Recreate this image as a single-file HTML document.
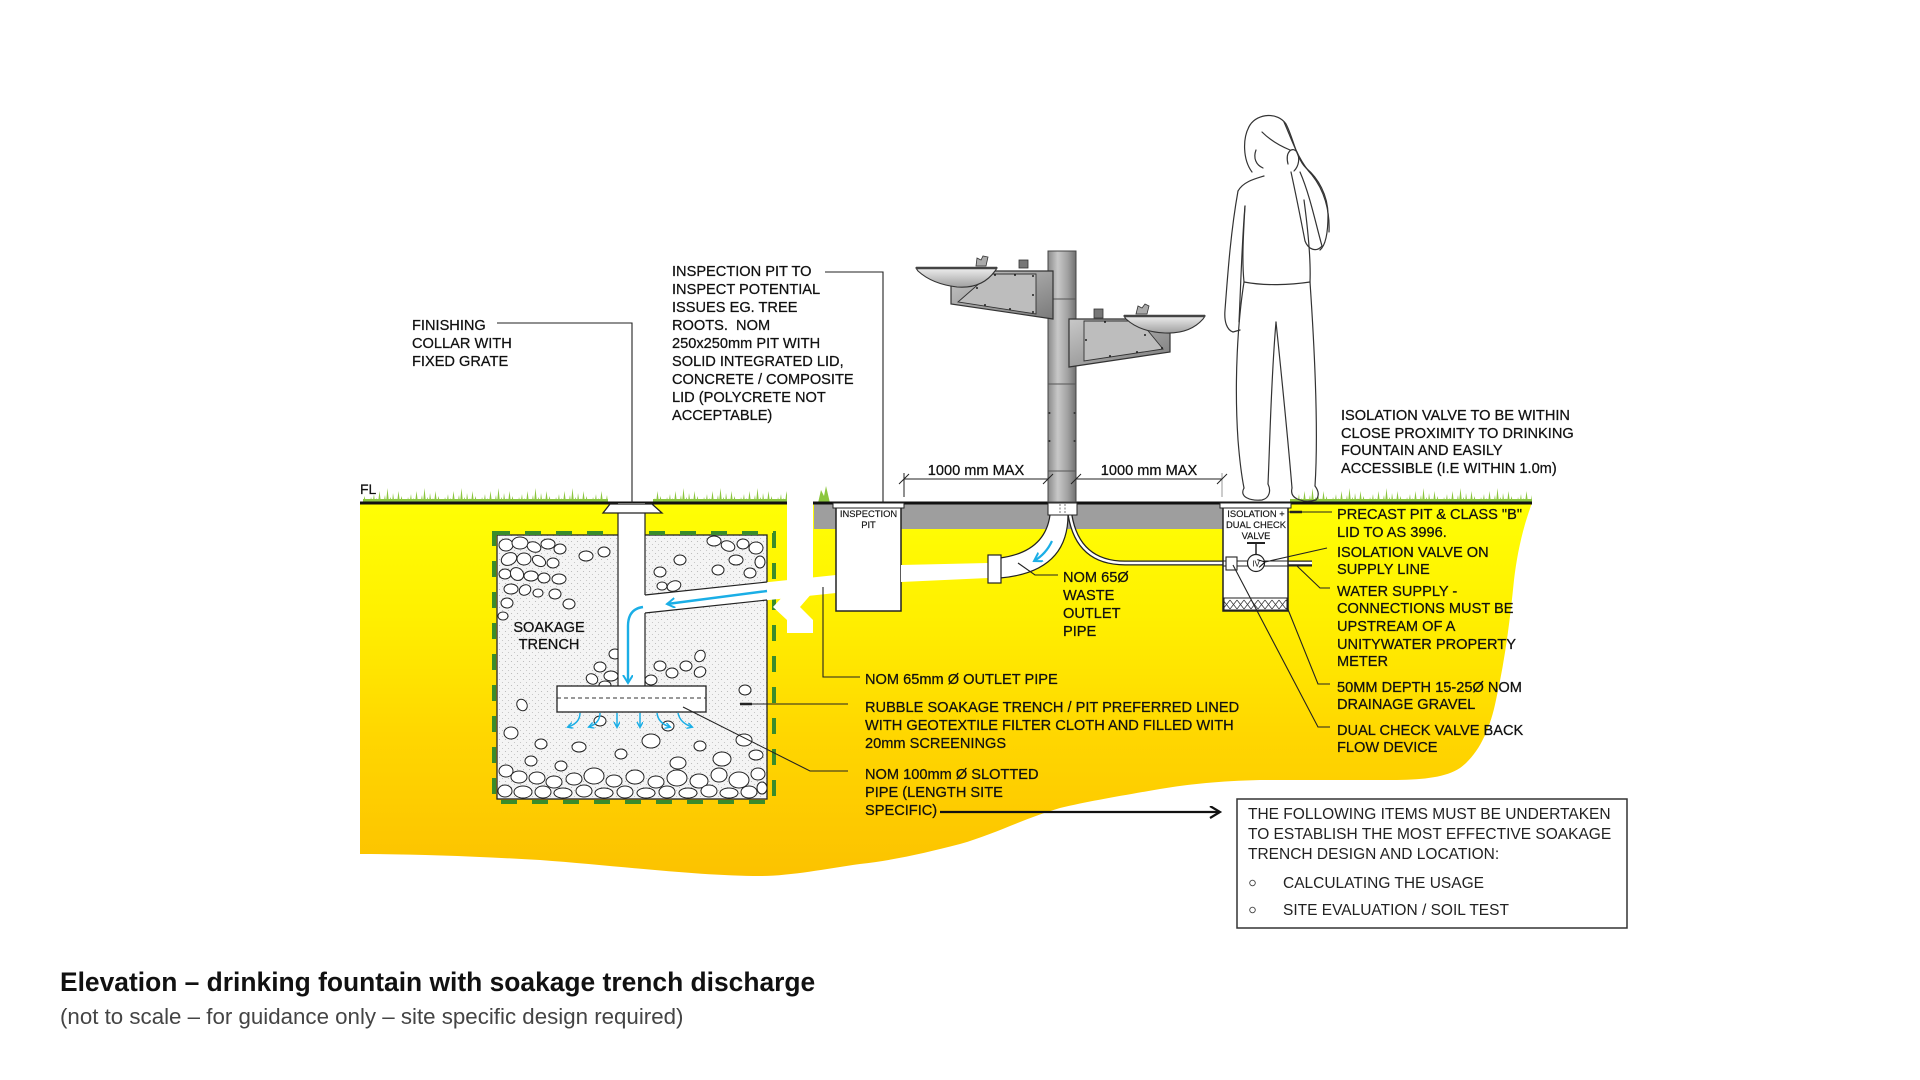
<!DOCTYPE html>
<html>
<head>
<meta charset="utf-8">
<style>
  html,body{margin:0;padding:0;background:#ffffff;}
  svg{display:block;}
  .t{font-family:"Liberation Sans",Arial,sans-serif;font-size:14.6px;fill:#111;stroke:#111;stroke-width:0.25px;}
  .s{font-family:"Liberation Sans",Arial,sans-serif;font-size:9.4px;fill:#111;stroke:#111;stroke-width:0.15px;}
  .b{font-family:"Liberation Sans",Arial,sans-serif;font-size:15.5px;fill:#222;}
</style>
</head>
<body>
<svg width="1920" height="1080" viewBox="0 0 1920 1080" xmlns="http://www.w3.org/2000/svg">
  <defs>
    <linearGradient id="yel" gradientUnits="userSpaceOnUse" x1="0" y1="503" x2="0" y2="876">
      <stop offset="0" stop-color="#ffff05"/>
      <stop offset="0.3" stop-color="#fff000"/>
      <stop offset="0.62" stop-color="#ffd700"/>
      <stop offset="1" stop-color="#fcc200"/>
    </linearGradient>
    <linearGradient id="pole" x1="0" y1="0" x2="1" y2="0">
      <stop offset="0" stop-color="#8a8a8a"/>
      <stop offset="0.35" stop-color="#c8c8c8"/>
      <stop offset="0.7" stop-color="#a2a2a2"/>
      <stop offset="1" stop-color="#707070"/>
    </linearGradient>
    <linearGradient id="hous" x1="0" y1="0" x2="1" y2="1">
      <stop offset="0" stop-color="#c8c8c8"/>
      <stop offset="1" stop-color="#7a7a7a"/>
    </linearGradient>
    <linearGradient id="bowl" x1="0" y1="0" x2="0" y2="1">
      <stop offset="0" stop-color="#eeeeee"/>
      <stop offset="1" stop-color="#a0a0a0"/>
    </linearGradient>
    <pattern id="dots" patternUnits="userSpaceOnUse" width="6" height="6">
      <rect width="6" height="6" fill="#f4f4f4"/>
      <circle cx="1.5" cy="1.5" r="0.55" fill="#b0b0b0"/>
      <circle cx="4.5" cy="4.5" r="0.55" fill="#bdbdbd"/>
    </pattern>
    <pattern id="grass" patternUnits="userSpaceOnUse" x="0" y="483" width="37" height="20">
      <path d="M0,20 L1,14 L2.5,20 L4,11 L5,20 L6.5,15 L8,20 L9.5,8 L11,20 L12,16 L13.5,20 L15,12 L16,20 L17.5,5 L19,20 L20.5,14 L22,20 L23,10 L24.5,20 L26,15 L27,20 L28.5,8 L30,20 L31.5,13 L33,20 L34.5,16 L36,20 Z" fill="#8cc63f"/>
      <rect x="0" y="16" width="37" height="4" fill="#8cc63f"/>
    </pattern>
    <pattern id="grav" patternUnits="userSpaceOnUse" width="14" height="13" x="1223" y="598">
      <rect width="14" height="13" fill="#ffffff"/>
      <path d="M0,2 L7,11 M7,2 L14,11 M7,2 L0,11 M14,2 L7,11" stroke="#333" stroke-width="0.7" fill="none"/>
    </pattern>
    <marker id="ba" markerWidth="8" markerHeight="8" refX="5" refY="3" orient="auto" markerUnits="userSpaceOnUse">
      <path d="M0,0 L5.5,3 L0,6" fill="none" stroke="#1aaee6" stroke-width="1.4"/>
    </marker>
    <marker id="bb" markerWidth="12" markerHeight="12" refX="8" refY="5" orient="auto" markerUnits="userSpaceOnUse">
      <path d="M0,0 L8,5 L0,10" fill="none" stroke="#1aaee6" stroke-width="2"/>
    </marker>
    <marker id="ka" markerWidth="14" markerHeight="14" refX="11" refY="6" orient="auto" markerUnits="userSpaceOnUse">
      <path d="M1,0 L11,6 L1,12" fill="none" stroke="#111" stroke-width="2.2"/>
    </marker>
    <marker id="kv" markerWidth="10" markerHeight="10" refX="1" refY="4" orient="auto" markerUnits="userSpaceOnUse">
      <path d="M8,0 L1,4 L8,8" fill="none" stroke="#111" stroke-width="1.1"/>
    </marker>
  </defs>

  <rect width="1920" height="1080" fill="#ffffff"/>

  <!-- yellow ground -->
  <path d="M360,503 L1532,503 C1522,530 1517,555 1514,580 C1510,620 1505,660 1496,700 C1490,730 1478,755 1460,768 C1445,778 1420,780 1390,780 L1260,780 C1220,781 1190,784 1160,789 C1120,796 1090,801 1060,808 C1025,818 995,834 960,844 C925,853 895,860 860,864 C825,869 790,876 760,876 C700,876 620,866 540,860 C470,856 410,854 360,854 Z" fill="url(#yel)"/>

  <!-- grass -->
  <rect x="363" y="483" width="245" height="20" fill="url(#grass)"/>
  <rect x="653" y="483" width="134" height="20" fill="url(#grass)"/>
  <path d="M818,503 L821,490 L824,496 L826,486 L830,503 Z" fill="#8cc63f"/>
  <rect x="1290" y="483" width="242" height="20" fill="url(#grass)"/>

  <!-- grey concrete band -->
  <rect x="814" y="503" width="409" height="26" fill="#9e9e9e"/>

  <!-- ground line -->
  <line x1="360" y1="503" x2="1532" y2="503" stroke="#111" stroke-width="3"/>

  <!-- trench -->
  <rect x="497" y="535" width="270" height="264" fill="url(#dots)" stroke="#222" stroke-width="1.3"/>
  <g fill="#fff" stroke="#222" stroke-width="1">
    <ellipse cx="506" cy="545" rx="7" ry="6"/><ellipse cx="520" cy="543" rx="8" ry="6"/><ellipse cx="534" cy="547" rx="7" ry="5" transform="rotate(20 534 547)"/>
    <ellipse cx="548" cy="544" rx="7" ry="5"/><ellipse cx="560" cy="549" rx="6" ry="5"/><ellipse cx="509" cy="559" rx="8" ry="6" transform="rotate(-25 509 559)"/>
    <ellipse cx="524" cy="559" rx="7" ry="6"/><ellipse cx="539" cy="561" rx="7" ry="5" transform="rotate(30 539 561)"/><ellipse cx="553" cy="563" rx="6" ry="5"/>
    <ellipse cx="505" cy="574" rx="6" ry="5"/><ellipse cx="517" cy="574" rx="7" ry="6" transform="rotate(40 517 574)"/><ellipse cx="531" cy="576" rx="7" ry="5"/>
    <ellipse cx="544" cy="578" rx="6" ry="5"/><ellipse cx="511" cy="589" rx="7" ry="5"/><ellipse cx="525" cy="590" rx="6" ry="5" transform="rotate(-30 525 590)"/>
    <ellipse cx="538" cy="593" rx="5" ry="4"/><ellipse cx="507" cy="603" rx="6" ry="5"/><ellipse cx="559" cy="579" rx="7" ry="5"/>
    <ellipse cx="555" cy="594" rx="6" ry="5"/><ellipse cx="586" cy="556" rx="7" ry="5"/><ellipse cx="569" cy="604" rx="6" ry="5"/>
    <ellipse cx="503" cy="616" rx="5" ry="4"/><ellipse cx="604" cy="552" rx="6" ry="5"/>
    <ellipse cx="714" cy="541" rx="7" ry="5"/><ellipse cx="728" cy="546" rx="7" ry="5" transform="rotate(20 728 546)"/><ellipse cx="743" cy="544" rx="6" ry="5"/>
    <ellipse cx="756" cy="548" rx="7" ry="6"/><ellipse cx="760" cy="562" rx="5" ry="6"/><ellipse cx="736" cy="560" rx="7" ry="5"/>
    <ellipse cx="750" cy="573" rx="6" ry="5"/><ellipse cx="718" cy="570" rx="6" ry="5"/><ellipse cx="660" cy="572" rx="6" ry="5"/>
    <ellipse cx="674" cy="586" rx="7" ry="5" transform="rotate(-20 674 586)"/><ellipse cx="662" cy="586" rx="5" ry="4"/><ellipse cx="680" cy="560" rx="6" ry="5"/>
    <ellipse cx="600" cy="667" rx="6" ry="5"/><ellipse cx="611" cy="676" rx="7" ry="5"/><ellipse cx="592" cy="679" rx="6" ry="5" transform="rotate(30 592 679)"/>
    <ellipse cx="605" cy="685" rx="6" ry="4"/><ellipse cx="660" cy="666" rx="6" ry="5"/><ellipse cx="672" cy="673" rx="6" ry="5"/>
    <ellipse cx="686" cy="666" rx="6" ry="5"/><ellipse cx="700" cy="672" rx="6" ry="5" transform="rotate(-30 700 672)"/><ellipse cx="651" cy="680" rx="6" ry="5"/>
    <ellipse cx="615" cy="654" rx="6" ry="5"/><ellipse cx="522" cy="705" rx="5" ry="6" transform="rotate(-30 522 705)"/><ellipse cx="745" cy="690" rx="6" ry="5"/>
    <ellipse cx="700" cy="656" rx="5" ry="6" transform="rotate(30 700 656)"/><ellipse cx="600" cy="721" rx="6" ry="5"/><ellipse cx="668" cy="726" rx="6" ry="5"/>
    <ellipse cx="511" cy="733" rx="7" ry="6"/><ellipse cx="651" cy="741" rx="9" ry="7"/><ellipse cx="541" cy="744" rx="6" ry="5"/>
    <ellipse cx="579" cy="747" rx="7" ry="5"/><ellipse cx="621" cy="754" rx="6" ry="5"/><ellipse cx="700" cy="746" rx="6" ry="5"/>
    <ellipse cx="744" cy="740" rx="8" ry="6"/><ellipse cx="756" cy="755" rx="7" ry="5"/><ellipse cx="531" cy="761" rx="6" ry="5"/>
    <ellipse cx="722" cy="759" rx="9" ry="7"/><ellipse cx="678" cy="763" rx="8" ry="6"/><ellipse cx="561" cy="766" rx="6" ry="5"/>
    <ellipse cx="506" cy="771" rx="7" ry="6"/><ellipse cx="519" cy="777" rx="8" ry="6"/><ellipse cx="537" cy="778" rx="8" ry="6"/>
    <ellipse cx="554" cy="782" rx="8" ry="6"/><ellipse cx="574" cy="779" rx="8" ry="6"/><ellipse cx="594" cy="776" rx="10" ry="8"/>
    <ellipse cx="614" cy="781" rx="8" ry="6"/><ellipse cx="635" cy="777" rx="9" ry="7"/><ellipse cx="656" cy="782" rx="8" ry="6"/>
    <ellipse cx="677" cy="778" rx="10" ry="8"/><ellipse cx="699" cy="781" rx="9" ry="7"/><ellipse cx="719" cy="775" rx="8" ry="7"/>
    <ellipse cx="739" cy="780" rx="10" ry="8"/><ellipse cx="758" cy="774" rx="7" ry="6"/>
    <ellipse cx="505" cy="791" rx="7" ry="6"/><ellipse cx="523" cy="792" rx="9" ry="6"/><ellipse cx="543" cy="792" rx="8" ry="6"/>
    <ellipse cx="563" cy="793" rx="9" ry="5"/><ellipse cx="584" cy="791" rx="8" ry="6"/><ellipse cx="604" cy="793" rx="9" ry="5"/>
    <ellipse cx="625" cy="792" rx="8" ry="6"/><ellipse cx="646" cy="793" rx="9" ry="5"/><ellipse cx="667" cy="792" rx="8" ry="6"/>
    <ellipse cx="688" cy="793" rx="9" ry="5"/><ellipse cx="709" cy="791" rx="8" ry="6"/><ellipse cx="729" cy="793" rx="9" ry="5"/>
    <ellipse cx="749" cy="792" rx="8" ry="6"/><ellipse cx="762" cy="788" rx="5" ry="6"/>
  </g>
  <!-- green dashed liner -->
  <rect x="494" y="533" width="280" height="269" fill="none" stroke="#3a8c2a" stroke-width="4" stroke-dasharray="16 15"/>

  <!-- riser pipe from collar -->
  <rect x="618" y="503" width="27" height="183" fill="#fff"/>
  <line x1="618" y1="513" x2="618" y2="686" stroke="#222" stroke-width="1.2"/>
  <line x1="645" y1="513" x2="645" y2="595" stroke="#222" stroke-width="1.2"/>
  <line x1="645" y1="613" x2="645" y2="686" stroke="#222" stroke-width="1.2"/>
  <!-- collar -->
  <polygon points="610,504 652,504 662,513 603,513" fill="#fff" stroke="#222" stroke-width="1.3"/>

  <!-- branch pipe to inspection pit -->
  <polygon points="645,595 836,575 836,593 645,613" fill="#fff"/>
  <line x1="645" y1="595" x2="767" y2="582" stroke="#222" stroke-width="1.2"/>
  <line x1="645" y1="613" x2="767" y2="600" stroke="#222" stroke-width="1.2"/>

  <!-- slotted pipe -->
  <rect x="557" y="686" width="149" height="26" fill="#fff" stroke="#222" stroke-width="1.3"/>
  <line x1="557" y1="698" x2="706" y2="698" stroke="#333" stroke-width="1" stroke-dasharray="4 3"/>

  <!-- blue flow arrows -->
  <path d="M643,607 Q628,609 628,626 L628,683" fill="none" stroke="#1aaee6" stroke-width="2.4" marker-end="url(#bb)"/>
  <path d="M767,591 L667,604" fill="none" stroke="#1aaee6" stroke-width="2.4" marker-end="url(#bb)"/>
  <g fill="none" stroke="#1aaee6" stroke-width="1.5">
    <path d="M580,713 Q580,723 568,727" marker-end="url(#ba)"/>
    <path d="M600,713 Q600,723 589,727" marker-end="url(#ba)"/>
    <path d="M617,713 L617,727" marker-end="url(#ba)"/>
    <path d="M640,713 L640,727" marker-end="url(#ba)"/>
    <path d="M657,713 Q658,723 670,727" marker-end="url(#ba)"/>
    <path d="M678,713 Q680,723 692,727" marker-end="url(#ba)"/>
  </g>

  <!-- vent riser with break symbol -->
  <polygon points="787,487 813,487 813,592 800,607 813,620 813,633 787,633 787,620 773,607 787,592" fill="#fff"/>

  <!-- inspection pit -->
  <rect x="836" y="505" width="65" height="106" fill="#fff" stroke="#222" stroke-width="1.5"/>
  <rect x="833" y="503" width="71" height="5" fill="#fff" stroke="#222" stroke-width="1"/>
  <text class="s" x="868.5" y="517" text-anchor="middle">INSPECTION</text>
  <text class="s" x="868.5" y="528" text-anchor="middle">PIT</text>

  <!-- pipe from pit to fountain -->
  <polygon points="901,565 988,563 988,578 901,582" fill="#fff"/>
  <path d="M1000,558 Q1045,552 1050,515 L1068,515 Q1068,572 1000,578 Z" fill="#fff"/>
  <path d="M1000,558 Q1045,552 1050,515" fill="none" stroke="#222" stroke-width="1.2"/>
  <path d="M1068,515 Q1068,572 1000,578" fill="none" stroke="#222" stroke-width="1.2"/>
  <rect x="988" y="555" width="13" height="28" fill="#fff" stroke="#222" stroke-width="1.2"/>
  <path d="M1052,541 Q1046,554 1034,561" fill="none" stroke="#1aaee6" stroke-width="2.2" marker-end="url(#bb)"/>

  <!-- water supply line -->
  <path d="M1070,515 Q1078,563 1125,563 L1312,563" fill="none" stroke="#222" stroke-width="5"/>
  <path d="M1070,515 Q1078,563 1125,563 L1312,563" fill="none" stroke="#fff" stroke-width="2.4"/>

  <!-- valve pit -->
  <rect x="1223" y="505" width="65" height="106" fill="#fff" stroke="#222" stroke-width="1.5"/>
  <line x1="1223" y1="561" x2="1312" y2="561" stroke="#222" stroke-width="1"/>
  <line x1="1223" y1="566" x2="1312" y2="566" stroke="#222" stroke-width="1"/>
  <rect x="1224" y="598" width="63" height="12" fill="url(#grav)" stroke="#222" stroke-width="1"/>
  <rect x="1220" y="503" width="71" height="5" fill="#fff" stroke="#222" stroke-width="1"/>
  <text class="s" x="1256" y="517" text-anchor="middle">ISOLATION  +</text>
  <text class="s" x="1256" y="528" text-anchor="middle">DUAL CHECK</text>
  <text class="s" x="1256" y="539" text-anchor="middle">VALVE</text>
  <line x1="1247" y1="543" x2="1265" y2="543" stroke="#222" stroke-width="2"/>
  <line x1="1256" y1="543" x2="1256" y2="555" stroke="#222" stroke-width="1.5"/>
  <circle cx="1256" cy="563" r="8.5" fill="#fff" stroke="#222" stroke-width="1.2"/>
  <text x="1256" y="566.5" text-anchor="middle" style="font-family:'Liberation Sans',Arial,sans-serif;font-size:8px;fill:#111">IV</text>
  <rect x="1226" y="557" width="11" height="13" fill="#fff" stroke="#222" stroke-width="1.1"/>

  <!-- fountain base -->
  <rect x="1048" y="503" width="29" height="12" fill="#fff" stroke="#222" stroke-width="1"/>
  <line x1="1060" y1="504" x2="1060" y2="514" stroke="#555" stroke-width="0.8" stroke-dasharray="2 1.5"/>
  <line x1="1065" y1="504" x2="1065" y2="514" stroke="#555" stroke-width="0.8" stroke-dasharray="2 1.5"/>

  <!-- fountain pole -->
  <rect x="1048" y="251" width="28" height="251" fill="url(#pole)" stroke="#444" stroke-width="1"/>
  <g stroke="#555" stroke-width="1">
    <line x1="1048" y1="299" x2="1076" y2="299"/>
    <line x1="1048" y1="384" x2="1076" y2="384"/>
    <line x1="1048" y1="471" x2="1076" y2="471"/>
  </g>
  <g fill="#333">
    <circle cx="1049.5" cy="413" r="1"/><circle cx="1074.5" cy="413" r="1"/>
    <circle cx="1049.5" cy="441" r="1"/><circle cx="1074.5" cy="441" r="1"/>
  </g>

  <!-- left bowl + housing -->
  <polygon points="951,271 1053,271 1053,319 951,304" fill="url(#hous)" stroke="#333" stroke-width="1.2"/>
  <polygon points="990,274 1036,274 1036,314 958,302" fill="#bdbdbd" stroke="#333" stroke-width="0.9"/>
  <path d="M916,268 L997,268 L995,271 Q982,289 957,287 Q932,284 918,271 Z" fill="url(#bowl)" stroke="#333" stroke-width="1.1"/>
  <line x1="916" y1="268" x2="997" y2="268" stroke="#444" stroke-width="2.5"/>
  <path d="M976,266 L977,258 L981,260 L983,256 L988,257 L986,266 Z" fill="#aaa" stroke="#333" stroke-width="0.8"/>
  <rect x="1019" y="260" width="9" height="8" fill="#777" stroke="#333" stroke-width="0.8"/>
  <g fill="#222"><circle cx="995" cy="275" r="1"/><circle cx="1015" cy="275" r="1"/><circle cx="1033" cy="276" r="1"/><circle cx="1033" cy="295" r="1"/><circle cx="1033" cy="312" r="1"/><circle cx="1010" cy="309" r="1"/><circle cx="985" cy="305" r="1"/><circle cx="977" cy="288" r="1"/></g>

  <!-- right bowl + housing -->
  <polygon points="1069,319 1170,319 1170,352 1069,367" fill="url(#hous)" stroke="#333" stroke-width="1.2"/>
  <polygon points="1084,321 1140,321 1163,349 1084,361" fill="#bdbdbd" stroke="#333" stroke-width="0.9"/>
  <path d="M1124,316 L1205,316 L1203,319 Q1190,334 1165,333 Q1140,332 1126,319 Z" fill="url(#bowl)" stroke="#333" stroke-width="1.1"/>
  <line x1="1124" y1="316" x2="1205" y2="316" stroke="#444" stroke-width="2.5"/>
  <path d="M1136,314 L1138,306 L1142,308 L1145,304 L1149,306 L1147,314 Z" fill="#aaa" stroke="#333" stroke-width="0.8"/>
  <rect x="1094" y="309" width="9" height="9" fill="#777" stroke="#333" stroke-width="0.8"/>
  <g fill="#222"><circle cx="1086" cy="340" r="1"/><circle cx="1105" cy="322" r="1"/><circle cx="1145" cy="335" r="1"/><circle cx="1110" cy="356" r="1"/><circle cx="1137" cy="352" r="1"/><circle cx="1162" cy="348" r="1"/></g>

  <!-- dimension lines -->
  <g stroke="#222" stroke-width="1">
    <line x1="904" y1="479" x2="1048" y2="479"/>
    <line x1="1076" y1="479" x2="1222" y2="479"/>
    <line x1="904" y1="473" x2="904" y2="497"/>
    <line x1="1222" y1="473" x2="1222" y2="497" stroke="#999"/>
    <line x1="899" y1="484" x2="909" y2="474"/>
    <line x1="1043" y1="484" x2="1053" y2="474"/>
    <line x1="1071" y1="484" x2="1081" y2="474"/>
    <line x1="1217" y1="484" x2="1227" y2="474"/>
  </g>
  <text class="t" x="976" y="475" text-anchor="middle">1000 mm MAX</text>
  <text class="t" x="1149" y="475" text-anchor="middle">1000 mm MAX</text>

  <!-- person -->
  <g fill="none" stroke="#333" stroke-width="1.2" stroke-linejoin="round" stroke-linecap="round">
    <path d="M1252,172 C1243,160 1242,138 1250,125 C1258,113 1278,112 1286,124 C1293,137 1296,158 1306,168 C1318,178 1328,195 1328,215 C1328,232 1326,245 1320,250"/>
    <path d="M1284,122 C1292,140 1298,160 1312,175 C1324,190 1330,210 1329,232"/>
    <path d="M1262,132 C1270,140 1280,146 1290,150"/>
    <path d="M1256,150 C1253,158 1256,165 1263,168"/>
    <path d="M1288,164 C1285,152 1292,146 1297,152 C1300,158 1299,166 1294,171"/>
    <path d="M1300,172 C1310,195 1316,225 1322,246 C1316,253 1308,249 1305,241 C1300,215 1296,195 1291,172"/>
    <path d="M1264,176 C1254,179 1243,182 1238,191"/>
    <path d="M1238,191 C1231,230 1228,270 1225,310 C1224,322 1227,330 1233,332 L1240,330"/>
    <path d="M1245,206 C1242,240 1241,280 1239,322"/>
    <path d="M1245,206 C1243,240 1242,262 1244,282"/>
    <path d="M1304,200 C1308,230 1311,258 1310,282"/>
    <path d="M1244,282 C1265,286 1290,285 1310,282"/>
    <path d="M1244,282 C1238,320 1234,380 1238,440 C1240,465 1242,478 1244,488"/>
    <path d="M1244,488 C1239,497 1250,501 1262,500 C1270,498 1271,490 1268,484"/>
    <path d="M1268,484 C1270,440 1271,380 1276,322"/>
    <path d="M1276,322 C1282,380 1288,440 1292,488"/>
    <path d="M1292,488 C1289,500 1305,503 1316,500 C1320,495 1318,490 1315,486"/>
    <path d="M1315,486 C1318,440 1316,370 1310,282"/>
  </g>

  <!-- leaders -->
  <g fill="none" stroke="#222" stroke-width="1.1">
    <polyline points="497,323 632,323 632,503"/>
    <polyline points="825,272 883,272 883,503"/>
    <polyline points="823,587 823,677 860,677"/>
    <line x1="740" y1="704" x2="752" y2="704" stroke-width="2.5"/>
    <line x1="752" y1="704" x2="848" y2="704"/>
    <polyline points="683,707 810,771 848,771"/>
    <polyline points="1018,563 1035,575 1058,575"/>
    <line x1="1288" y1="512" x2="1332" y2="512"/>
    <line x1="1290" y1="512" x2="1302" y2="512" stroke-width="2.5"/>
    <line x1="1327" y1="548" x2="1265" y2="562" marker-end="url(#kv)"/>
    <polyline points="1297,566 1320,588 1330,588"/>
    <polyline points="1287,607 1318,684 1330,684"/>
    <polyline points="1233,565 1318,727 1330,727"/>
  </g>
  <line x1="940" y1="812" x2="1220" y2="812" stroke="#111" stroke-width="2.2" marker-end="url(#ka)"/>

  <!-- labels -->
  <text class="t" x="360" y="494" style="font-size:14px">FL</text>

  <text class="t" x="412" y="330">FINISHING</text>
  <text class="t" x="412" y="348">COLLAR WITH</text>
  <text class="t" x="412" y="366">FIXED GRATE</text>

  <text class="t" x="672" y="276">INSPECTION PIT TO</text>
  <text class="t" x="672" y="294">INSPECT POTENTIAL</text>
  <text class="t" x="672" y="312">ISSUES EG. TREE</text>
  <text class="t" x="672" y="330" xml:space="preserve">ROOTS.  NOM</text>
  <text class="t" x="672" y="348">250x250mm PIT WITH</text>
  <text class="t" x="672" y="366">SOLID INTEGRATED LID,</text>
  <text class="t" x="672" y="384">CONCRETE / COMPOSITE</text>
  <text class="t" x="672" y="402">LID (POLYCRETE NOT</text>
  <text class="t" x="672" y="420">ACCEPTABLE)</text>

  <text class="t" x="549" y="632" text-anchor="middle">SOAKAGE</text>
  <text class="t" x="549" y="649" text-anchor="middle">TRENCH</text>

  <text class="t" x="1063" y="582">NOM 65Ø</text>
  <text class="t" x="1063" y="600">WASTE</text>
  <text class="t" x="1063" y="618">OUTLET</text>
  <text class="t" x="1063" y="636">PIPE</text>

  <text class="t" x="865" y="684">NOM 65mm Ø OUTLET PIPE</text>
  <text class="t" x="865" y="712">RUBBLE SOAKAGE TRENCH / PIT PREFERRED LINED</text>
  <text class="t" x="865" y="730">WITH GEOTEXTILE FILTER CLOTH AND FILLED WITH</text>
  <text class="t" x="865" y="748">20mm SCREENINGS</text>
  <text class="t" x="865" y="779">NOM 100mm Ø SLOTTED</text>
  <text class="t" x="865" y="797">PIPE (LENGTH SITE</text>
  <text class="t" x="865" y="815">SPECIFIC)</text>

  <text class="t" x="1341" y="420">ISOLATION VALVE TO BE WITHIN</text>
  <text class="t" x="1341" y="438">CLOSE PROXIMITY TO DRINKING</text>
  <text class="t" x="1341" y="455">FOUNTAIN AND EASILY</text>
  <text class="t" x="1341" y="473">ACCESSIBLE (I.E WITHIN 1.0m)</text>

  <text class="t" x="1337" y="519">PRECAST PIT &amp; CLASS "B"</text>
  <text class="t" x="1337" y="537">LID TO AS 3996.</text>
  <text class="t" x="1337" y="557">ISOLATION VALVE ON</text>
  <text class="t" x="1337" y="574">SUPPLY LINE</text>
  <text class="t" x="1337" y="596">WATER SUPPLY -</text>
  <text class="t" x="1337" y="613">CONNECTIONS MUST BE</text>
  <text class="t" x="1337" y="631">UPSTREAM OF A</text>
  <text class="t" x="1337" y="649">UNITYWATER PROPERTY</text>
  <text class="t" x="1337" y="666">METER</text>
  <text class="t" x="1337" y="692">50MM DEPTH 15-25Ø NOM</text>
  <text class="t" x="1337" y="709">DRAINAGE GRAVEL</text>
  <text class="t" x="1337" y="735">DUAL CHECK VALVE BACK</text>
  <text class="t" x="1337" y="752">FLOW DEVICE</text>

  <!-- info box -->
  <rect x="1237" y="799" width="390" height="129" fill="#fff" stroke="#333" stroke-width="1.5"/>
  <text class="b" x="1248" y="819">THE FOLLOWING ITEMS MUST BE UNDERTAKEN</text>
  <text class="b" x="1248" y="839">TO ESTABLISH THE MOST EFFECTIVE SOAKAGE</text>
  <text class="b" x="1248" y="859">TRENCH DESIGN AND LOCATION:</text>
  <circle cx="1252.5" cy="883" r="2.8" fill="none" stroke="#444" stroke-width="0.9"/>
  <text class="b" x="1283" y="888">CALCULATING THE USAGE</text>
  <circle cx="1252.5" cy="910" r="2.8" fill="none" stroke="#444" stroke-width="0.9"/>
  <text class="b" x="1283" y="915">SITE EVALUATION / SOIL TEST</text>

  <!-- caption -->
  <text x="60" y="991" style="font-family:'Liberation Sans',Arial,sans-serif;font-size:26.4px;font-weight:bold;fill:#111">Elevation – drinking fountain with soakage trench discharge</text>
  <text x="60" y="1024" style="font-family:'Liberation Sans',Arial,sans-serif;font-size:22.3px;fill:#444">(not to scale – for guidance only – site specific design required)</text>
</svg>
</body>
</html>
